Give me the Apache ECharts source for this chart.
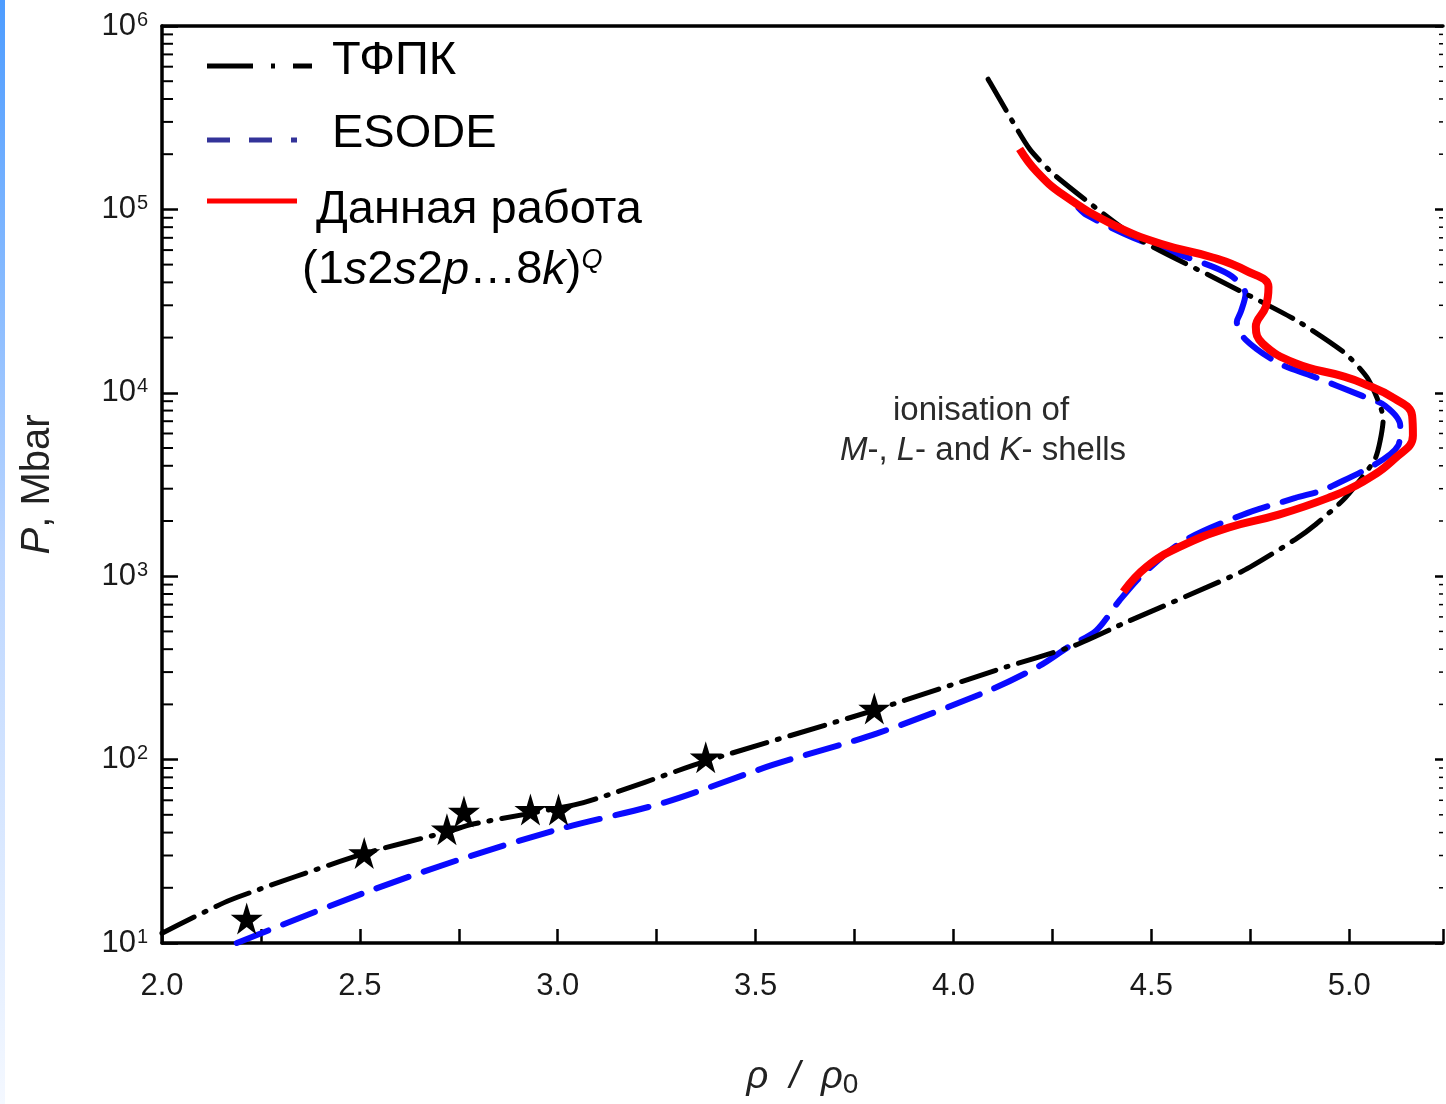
<!DOCTYPE html>
<html>
<head>
<meta charset="utf-8">
<script src="https://cdn.jsdelivr.net/npm/echarts@6/dist/echarts.min.js"></script>
<style>
  html, body { margin: 0; padding: 0; background: #fff; overflow: hidden; }
  #chart { width: 1446px; height: 1104px; }
</style>
</head>
<body>
<div id="chart"></div>
<script>
// density ratio rho/rho0 and pressure (Mbar)
const tfpkX = [2.000, 2.171, 2.506, 2.725, 2.783, 3.065, 3.374, 3.797, 4.117, 4.301, 4.429, 4.731, 4.864, 4.915, 4.990, 5.066, 5.086, 5.048, 4.990, 4.864, 4.671, 4.462, 4.260, 4.192, 4.092, 4.077];
const tfpkP = [11.3, 17.1, 30.5, 40.6, 44.4, 58.3, 98, 185, 312, 415, 552, 1067, 1589, 1914, 2673, 4395, 7228, 11860, 16400, 25000, 41100, 70100, 151000, 214000, 493000, 565000];

const esodeX = [2.189, 2.506, 2.743, 3.002, 3.269, 3.543, 3.807, 4.082, 4.217, 4.293, 4.361, 4.419, 4.479, 4.580, 4.731, 4.864, 4.947, 5.124, 5.129, 5.091, 5.033, 4.907, 4.822, 4.738, 4.716, 4.726, 4.738, 4.696, 4.570, 4.454, 4.336, 4.316];
const esodeP = [10, 18.6, 28.1, 41.7, 58.3, 93.5, 139, 234, 324, 415, 506, 735, 1027, 1549, 2165, 2673, 3027, 5164, 6622, 8490, 9620, 12330, 14490, 19500, 24380, 27600, 34500, 44250, 56750, 70100, 93300, 101800];

const workX = [4.429, 4.487, 4.570, 4.696, 4.822, 4.947, 5.033, 5.116, 5.161, 5.159, 5.116, 5.033, 4.983, 4.864, 4.781, 4.764, 4.789, 4.796, 4.738, 4.655, 4.530, 4.404, 4.278, 4.210, 4.167];
const workP = [822, 1122, 1439, 1842, 2165, 2673, 3260, 4395, 5850, 7500, 9270, 11300, 12330, 14490, 18580, 22900, 29400, 37700, 46500, 54700, 64300, 82400, 119700, 161000, 214000];

// experimental points (stars)
const expX = [2.214, 2.511, 2.720, 2.763, 2.931, 3.002, 3.374, 3.800];
const expP = [13.6, 31.0, 41.7, 52.1, 53.4, 53.4, 103, 190];

const X_MIN = 2.0;
const X_MAX = 5.237;
const Y_MIN = 10;
const Y_MAX = 1e6;

// minor ticks of the log axis: 2..9 in every decade
const minorTicks = [];
for (let d = 10; d < Y_MAX; d *= 10) {
    for (let k = 2; k <= 9; k++) minorTicks.push(k * d);
}

const zip = (xs, ys) => xs.map((x, i) => [x, ys[i]]);

const STAR = "path://M50,0 L61,35 L98,35 L68,57 L79,91 L50,70 L21,91 L32,57 L2,35 L39,35 Z";
const FONT = "Liberation Sans, Arial, sans-serif";

let myChart = echarts.init(document.getElementById("chart"));

let option = {
    backgroundColor: "#fff",
    animation: false,
    textStyle: { fontFamily: FONT },
    grid: { left: 162, right: -2, top: 26, bottom: 151, containLabel: false },
    xAxis: [
        {
            type: "value",
            min: X_MIN,
            max: X_MAX,
            interval: 0.25,
            axisLine: { lineStyle: { color: "#000", width: 3.5 } },
            axisTick: { inside: true, length: 14, lineStyle: { color: "#000", width: 2.5 } },
            axisLabel: {
                margin: 28,
                fontSize: 31,
                color: "#1a1a1a",
                formatter: function (v) {
                    let h = v * 2;
                    return Math.abs(h - Math.round(h)) < 1e-6 && v <= 5.001 ? v.toFixed(1) : "";
                }
            },
            splitLine: { show: false },
            name: "{i|ρ  /  ρ}{sub|0}",
            nameLocation: "middle",
            nameGap: 112,
            nameTextStyle: {
                rich: {
                    i: { fontSize: 38, fontStyle: "italic", color: "#222", fontFamily: FONT },
                    sub: { fontSize: 28, color: "#222", verticalAlign: "bottom", padding: [16, 0, 0, 0], fontFamily: FONT }
                }
            }
        },
        {
            type: "value",
            position: "top",
            min: X_MIN,
            max: X_MAX,
            axisLine: { show: true, lineStyle: { color: "#000", width: 3.5 } },
            axisTick: { show: false },
            axisLabel: { show: false },
            splitLine: { show: false }
        }
    ],
    yAxis: [
        {
            type: "log",
            logBase: 10,
            min: Y_MIN,
            max: Y_MAX,
            axisLine: { show: true, lineStyle: { color: "#000", width: 3.5 } },
            axisTick: { inside: true, length: 16, lineStyle: { color: "#000", width: 2.5 } },
            axisLabel: {
                margin: 14,
                formatter: function (v) {
                    return "{b|10}{s|" + Math.round(Math.log10(v)) + "}";
                },
                rich: {
                    b: { fontSize: 31, color: "#1a1a1a", fontFamily: FONT },
                    s: { fontSize: 20, color: "#1a1a1a", verticalAlign: "top", padding: [0, 0, 12, 1], fontFamily: FONT }
                }
            },
            splitLine: { show: false },
            name: "{i|P}{n|, Mbar}",
            nameLocation: "middle",
            nameRotate: 90,
            nameGap: 104,
            nameTextStyle: {
                rich: {
                    i: { fontSize: 40, fontStyle: "italic", color: "#222", fontFamily: FONT },
                    n: { fontSize: 40, color: "#222", fontFamily: FONT }
                }
            }
        },
        {
            type: "log",
            logBase: 10,
            position: "right",
            min: Y_MIN,
            max: Y_MAX,
            axisLine: { show: false },
            axisTick: { inside: true, length: 8, lineStyle: { color: "#000", width: 2.5 } },
            axisLabel: { show: false },
            splitLine: { show: false }
        }
    ],
    series: [
        {
            name: "minor ticks",
            type: "custom",
            silent: true,
            clip: false,
            data: minorTicks.map((v) => [X_MIN, v]),
            renderItem: function (params, api) {
                let v = api.value(1);
                let l = api.coord([X_MIN, v]);
                let r = api.coord([X_MAX, v]);
                return {
                    type: "group",
                    children: [
                        { type: "line", shape: { x1: l[0], y1: l[1], x2: l[0] + 11, y2: l[1] }, style: { stroke: "#000", lineWidth: 2 } },
                        { type: "line", shape: { x1: r[0], y1: r[1], x2: r[0] - 4, y2: r[1] }, style: { stroke: "#000", lineWidth: 1.5 } }
                    ]
                };
            }
        },
        {
            name: "ESODE",
            type: "line",
            data: zip(esodeX, esodeP),
            smooth: 0.3,
            showSymbol: false,
            clip: true,
            lineStyle: { color: "#0a0aff", width: 6, type: [34, 16], cap: "round" },
            z: 3
        },
        {
            name: "ТФПК",
            type: "line",
            data: zip(tfpkX, tfpkP),
            smooth: 0.2,
            showSymbol: false,
            lineStyle: { color: "#000", width: 5, type: [36, 11, 2, 11], cap: "round" },
            z: 4
        },
        {
            name: "Данная работа",
            type: "line",
            data: zip(workX, workP),
            smooth: 0.45,
            showSymbol: false,
            lineStyle: { color: "#ff0000", width: 8 },
            z: 5
        },
        {
            name: "experiment",
            type: "scatter",
            data: zip(expX, expP),
            symbol: STAR,
            symbolSize: 32,
            itemStyle: { color: "#000", opacity: 1 },
            z: 6
        }
    ],
    graphic: [
        {
            type: "rect",
            left: 0,
            top: 0,
            shape: { width: 5, height: 1104 },
            style: {
                fill: new echarts.graphic.LinearGradient(0, 0, 0, 1, [
                    { offset: 0, color: "#4d9cff" },
                    { offset: 0.5, color: "#bcd6ff" },
                    { offset: 1, color: "#f4f8ff" }
                ])
            }
        },
        // legend
        { type: "line", shape: { x1: 207, y1: 66, x2: 312, y2: 66 }, style: { stroke: "#000", lineWidth: 5, lineDash: [46, 18, 4, 18] } },
        { type: "text", left: 332, top: 38, style: { text: "ТФПК", fontSize: 47, fill: "#000", fontFamily: FONT } },
        { type: "line", shape: { x1: 207, y1: 140, x2: 297, y2: 140 }, style: { stroke: "#333399", lineWidth: 5, lineDash: [23, 19] } },
        { type: "text", left: 332, top: 111, style: { text: "ESODE", fontSize: 47, fill: "#000", fontFamily: FONT } },
        { type: "line", shape: { x1: 207, y1: 201, x2: 297, y2: 201 }, style: { stroke: "#ff0000", lineWidth: 5 } },
        { type: "text", left: 316, top: 187, style: { text: "Данная работа", fontSize: 47, fill: "#000", fontFamily: FONT } },
        {
            type: "text",
            left: 302,
            top: 247,
            style: {
                text: "{n|(1}{i|s}{n|2}{i|s}{n|2}{i|p}{n|…8}{i|k}{n|)}{q|Q}",
                rich: {
                    n: { fontSize: 47, fill: "#000", fontFamily: FONT },
                    i: { fontSize: 47, fill: "#000", fontStyle: "italic", fontFamily: FONT },
                    q: { fontSize: 27, fill: "#000", fontStyle: "italic", verticalAlign: "top", fontFamily: FONT }
                }
            }
        },
        // annotation
        {
            type: "text",
            x: 981,
            y: 411,
            style: { text: "ionisation of", fontSize: 33, fill: "#2a2a2a", align: "center", verticalAlign: "middle", fontFamily: FONT }
        },
        {
            type: "text",
            x: 983,
            y: 451,
            style: {
                text: "{i|M}{n|-, }{i|L}{n|- and }{i|K}{n|- shells}",
                align: "center",
                verticalAlign: "middle",
                rich: {
                    n: { fontSize: 33, fill: "#2a2a2a", fontFamily: FONT },
                    i: { fontSize: 33, fill: "#2a2a2a", fontStyle: "italic", fontFamily: FONT }
                }
            }
        }
    ]
};

myChart.setOption(option, true);
</script>
</body>
</html>
